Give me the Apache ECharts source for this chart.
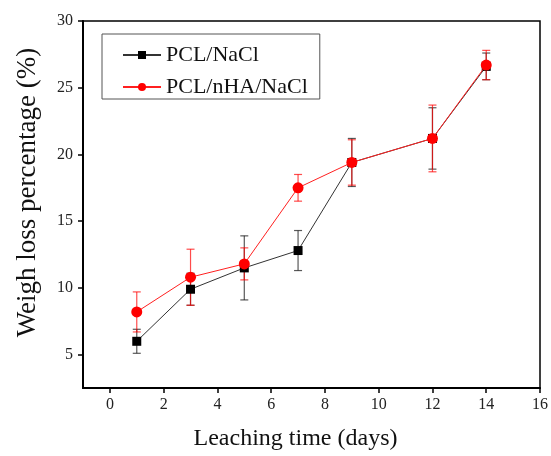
<!DOCTYPE html>
<html>
<head>
<meta charset="utf-8">
<script src="https://cdn.jsdelivr.net/npm/echarts@6/dist/echarts.min.js"></script>
<style>html,body{margin:0;padding:0;background:#fff;}#c{width:551px;height:456px;}</style>
</head>
<body>
<div id="c"></div>
<script>
var days = [1, 3, 5, 7, 9, 12, 14];
var pclNaCl = [6.0, 9.9, 11.5, 12.8, 19.4, 21.2, 26.6];
var pclNaClErr = [0.9, 1.2, 2.4, 1.5, 1.8, 2.3, 1.0];
var pclNhaNaCl = [8.2, 10.8, 11.8, 17.5, 19.4, 21.2, 26.7];
var pclNhaNaClErr = [1.5, 2.1, 1.2, 1.0, 1.7, 2.5, 1.1];
var xTicks = [0, 2, 4, 6, 8, 10, 12, 14, 16];
var yTicks = [5, 10, 15, 20, 25, 30];
var seriesNames = ['PCL/NaCl', 'PCL/nHA/NaCl'];
var xTitle = 'Leaching time (days)';
var yTitle = 'Weigh loss percentage (%)';

var FONT = '"Liberation Serif", "DejaVu Serif", serif';

function pts(vals) { return days.map(function (d, i) { return [d, vals[i]]; }); }
function errData(vals, errs) { return days.map(function (d, i) { return [d, vals[i] - errs[i], vals[i] + errs[i]]; }); }

function errRender(color, opacity) {
  return function (params, api) {
    var x = api.value(0);
    var lo = api.coord([x, api.value(1)]);
    var hi = api.coord([x, api.value(2)]);
    var w = 4;
    var st = { stroke: color, lineWidth: 1.2, opacity: opacity };
    return {
      type: 'group',
      children: [
        { type: 'line', shape: { x1: lo[0], y1: lo[1], x2: hi[0], y2: hi[1] }, style: st },
        { type: 'line', shape: { x1: lo[0] - w, y1: lo[1], x2: lo[0] + w, y2: lo[1] }, style: st },
        { type: 'line', shape: { x1: hi[0] - w, y1: hi[1], x2: hi[0] + w, y2: hi[1] }, style: st }
      ]
    };
  };
}

var chart = echarts.init(document.getElementById('c'), null, { renderer: 'canvas' });
chart.setOption({
  animation: false,
  backgroundColor: '#fff',
  grid: { left: 83, top: 21, right: 9, bottom: 64, show: true, borderColor: '#000', borderWidth: 1.5, backgroundColor: 'transparent' },
  legend: {
    left: 102, top: 34, orient: 'vertical',
    padding: [10, 12, 1, 20],
    itemWidth: 38, itemHeight: 10, itemGap: 10,
    borderColor: '#555', borderWidth: 1,
    textStyle: { fontFamily: FONT, fontSize: 22, color: '#111', lineHeight: 22 },
    data: seriesNames
  },
  xAxis: {
    type: 'value', min: -1, max: 16,
    name: xTitle, nameLocation: 'middle', nameGap: 39,
    nameTextStyle: { fontFamily: FONT, fontSize: 24, color: '#111', padding: [0, 32, 0, 0] },
    axisLine: { show: true, onZero: false, lineStyle: { color: '#000', width: 2 } },
    axisTick: { show: true, inside: false, length: 5, customValues: xTicks, lineStyle: { color: '#000', width: 1.5 } },
    axisLabel: { customValues: xTicks, margin: 9, fontFamily: FONT, fontSize: 16, color: '#222' },
    splitLine: { show: false }
  },
  yAxis: {
    type: 'value', min: 2.5, max: 30,
    name: yTitle, nameLocation: 'middle', nameGap: 42, nameRotate: 90,
    nameTextStyle: { fontFamily: FONT, fontSize: 27, color: '#111', padding: [0, 0, 0, 24] },
    axisLine: { show: true, onZero: false, lineStyle: { color: '#000', width: 2 } },
    axisTick: { show: true, inside: false, length: 5, customValues: yTicks, lineStyle: { color: '#000', width: 1.5 } },
    axisLabel: { customValues: yTicks, margin: 10, fontFamily: FONT, fontSize: 16, color: '#222' },
    splitLine: { show: false }
  },
  series: [
    {
      type: 'custom', name: 'err1', silent: true, z: 2,
      renderItem: errRender('#222', 0.75),
      data: errData(pclNaCl, pclNaClErr), encode: { x: 0, y: [1, 2] }
    },
    {
      type: 'custom', name: 'err2', silent: true, z: 3,
      renderItem: errRender('#ff0000', 0.7),
      data: errData(pclNhaNaCl, pclNhaNaClErr), encode: { x: 0, y: [1, 2] }
    },
    {
      type: 'line', name: seriesNames[0], z: 4,
      data: pts(pclNaCl),
      symbol: 'rect', symbolSize: 9,
      lineStyle: { color: '#333', width: 1 },
      itemStyle: { color: '#000' }
    },
    {
      type: 'line', name: seriesNames[1], z: 5,
      data: pts(pclNhaNaCl),
      symbol: 'circle', symbolSize: 11,
      lineStyle: { color: '#ff2020', width: 1 },
      itemStyle: { color: '#ff0000' }
    }
  ]
});
</script>
</body>
</html>
